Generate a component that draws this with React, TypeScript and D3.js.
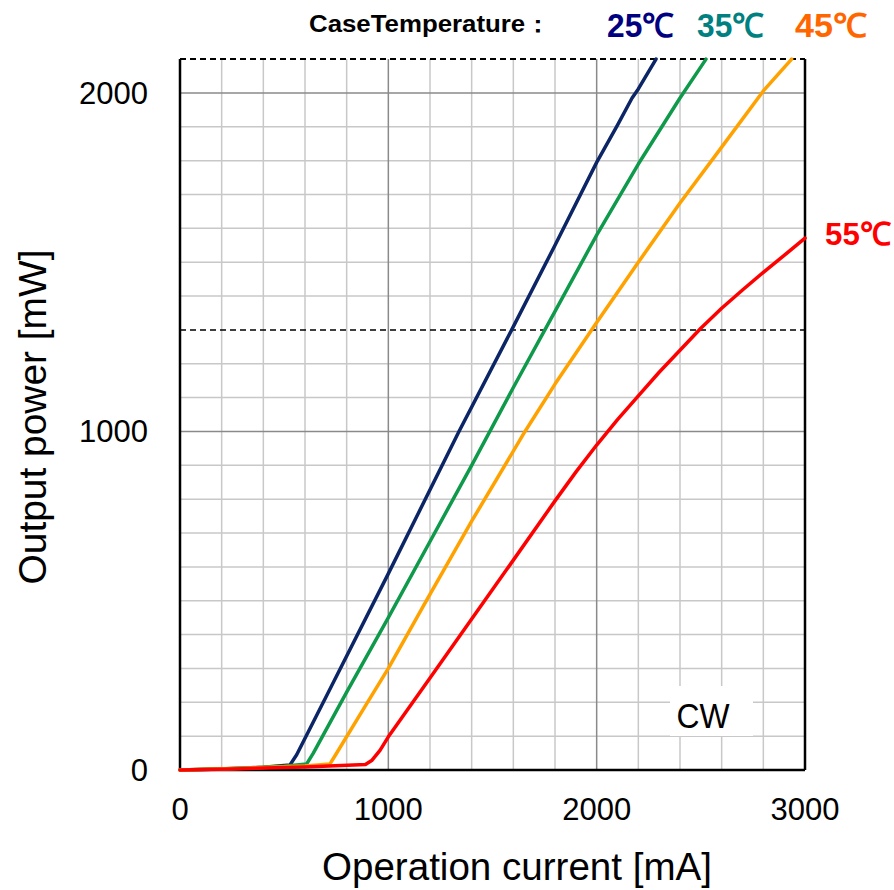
import React from "react";
import * as d3 from "d3";

const xTicks = [0, 1000, 2000, 3000];
const yTicks = [0, 1000, 2000];
const xGrid = d3.range(200, 3000, 200);
const yGrid = d3.range(100, 2100, 100);
const dashedLevel = 1300;

const cur25 = [0, 200, 400, 528, 560, 700, 1000, 1339, 1592, 1800, 2000, 2100, 2170, 2200, 2285];
const pow25 = [0, 3, 8, 15, 45, 215, 580, 1000, 1300, 1550, 1795, 1905, 1985, 2012, 2100];

const cur35 = [0, 300, 500, 608, 640, 800, 1000, 1200, 1400, 1600, 1800, 2000, 2200, 2400, 2525];
const pow35 = [0, 5, 11, 18, 50, 230, 450, 675, 900, 1130, 1355, 1580, 1790, 1985, 2100];

const cur45 = [0, 300, 600, 720, 750, 900, 1000, 1184, 1400, 1656, 1800, 2000, 2200, 2400, 2600, 2800, 2936];
const pow45 = [0, 5, 12, 18, 48, 200, 300, 502, 735, 1000, 1140, 1322, 1500, 1675, 1840, 2006, 2100];

const cur55 = [0, 300, 600, 890, 920, 960, 1000, 1200, 1400, 1600, 1800, 1900, 2000, 2100, 2200, 2300, 2400, 2500, 2600, 2700, 2800, 2900, 3000];
const pow55 = [0, 4, 9, 16, 28, 58, 98, 272, 446, 620, 795, 880, 960, 1035, 1105, 1175, 1240, 1305, 1364, 1418, 1470, 1520, 1571];

const seriesNames = ["25℃", "35℃", "45℃", "55℃"];
const lineColors = ["#0b2566", "#0e9a4a", "#ffa200", "#ff0000"];
const labelColors = ["#000080", "#008080", "#ff6600", "#ff0000"];

const W = 894;
const H = 890;

export default function App() {
  const x = d3.scaleLinear().domain([0, 3000]).range([180, 805]);
  const y = d3.scaleLinear().domain([0, 2100]).range([770, 59.1]);
  const line = d3
    .line<[number, number]>()
    .x((d) => x(d[0]))
    .y((d) => y(d[1]))
    .curve(d3.curveLinear);

  const series = [
    cur25.map((c, i) => [c, pow25[i]] as [number, number]),
    cur35.map((c, i) => [c, pow35[i]] as [number, number]),
    cur45.map((c, i) => [c, pow45[i]] as [number, number]),
    cur55.map((c, i) => [c, pow55[i]] as [number, number]),
  ];

  const font = "'Liberation Sans', Arial, sans-serif";
  const x0 = x(0), x1 = x(3000), y0 = y(0), y1 = y(2100);

  return (
    <svg
      width={W}
      height={H}
      style={{ position: "absolute", left: 0, top: 0, background: "#fff" }}
      fontFamily={font}
    >
      <rect x={0} y={0} width={W} height={H} fill="#fff" />
      {xGrid.filter((v) => v % 1000 !== 0).map((v) => (
        <line key={"xg" + v} x1={x(v)} x2={x(v)} y1={y0} y2={y1} stroke="#c8c8c8" strokeWidth={1.5} />
      ))}
      {yGrid.filter((v) => v % 1000 !== 0 && v !== dashedLevel).map((v) => (
        <line key={"yg" + v} x1={x0} x2={x1} y1={y(v)} y2={y(v)} stroke="#c8c8c8" strokeWidth={1.5} />
      ))}
      {xGrid.filter((v) => v % 1000 === 0).map((v) => (
        <line key={"xm" + v} x1={x(v)} x2={x(v)} y1={y0} y2={y1} stroke="#8a8a8a" strokeWidth={1.5} />
      ))}
      {yGrid.filter((v) => v % 1000 === 0).map((v) => (
        <line key={"ym" + v} x1={x0} x2={x1} y1={y(v)} y2={y(v)} stroke="#8a8a8a" strokeWidth={1.5} />
      ))}
      <rect x={670} y={686} width={83} height={50} fill="#fff" />
      <text x={703} y={728} fontSize={35} textAnchor="middle" fill="#000" textLength={53} lengthAdjust="spacingAndGlyphs">
        CW
      </text>
      <line x1={x0} x2={x1} y1={y(dashedLevel)} y2={y(dashedLevel)} stroke="#000" strokeWidth={1.5} strokeDasharray="6,4" />
      <line x1={x0} x2={x1} y1={y1} y2={y1} stroke="#000" strokeWidth={2} strokeDasharray="6,4" />
      <line x1={x0} x2={x0} y1={y1} y2={y0} stroke="#000" strokeWidth={2.5} />
      <line x1={x1} x2={x1} y1={y1} y2={y0} stroke="#000" strokeWidth={2.5} />
      <line x1={x0} x2={x1} y1={y0} y2={y0} stroke="#000" strokeWidth={2.5} />
      <g>
        {series.map((s, i) => (
          <path key={i} d={line(s) || ""} fill="none" stroke={lineColors[i]} strokeWidth={3.5} strokeLinejoin="round" strokeLinecap="round" />
        ))}
      </g>
      {xTicks.map((v) => (
        <text key={"xt" + v} x={x(v)} y={820} fontSize={31} textAnchor="middle" fill="#000">
          {v}
        </text>
      ))}
      {yTicks.map((v) => (
        <text key={"yt" + v} x={148} y={y(v) + 11} fontSize={31} textAnchor="end" fill="#000">
          {v}
        </text>
      ))}
      <text x={517} y={880} fontSize={38} textAnchor="middle" fill="#000" textLength={390} lengthAdjust="spacingAndGlyphs">
        Operation current [mA]
      </text>
      <text
        transform={`translate(46, ${417}) rotate(-90)`}
        fontSize={38}
        textAnchor="middle"
        fill="#000"
        textLength={335}
        lengthAdjust="spacingAndGlyphs"
      >
        Output power [mW]
      </text>
      <text x={309} y={32} fontSize={23} fontWeight="bold" fill="#000" textLength={242} lengthAdjust="spacingAndGlyphs">
        CaseTemperature：
      </text>
      <text x={607} y={37} fontSize={33} fontWeight="bold" fill={labelColors[0]} textLength={67} lengthAdjust="spacingAndGlyphs">
        {seriesNames[0]}
      </text>
      <text x={697} y={37} fontSize={33} fontWeight="bold" fill={labelColors[1]} textLength={67} lengthAdjust="spacingAndGlyphs">
        {seriesNames[1]}
      </text>
      <text x={795} y={37} fontSize={33} fontWeight="bold" fill={labelColors[2]} textLength={72} lengthAdjust="spacingAndGlyphs">
        {seriesNames[2]}
      </text>
      <text x={825} y={245} fontSize={32} fontWeight="bold" fill={labelColors[3]} textLength={66} lengthAdjust="spacingAndGlyphs">
        {seriesNames[3]}
      </text>
    </svg>
  );
}
